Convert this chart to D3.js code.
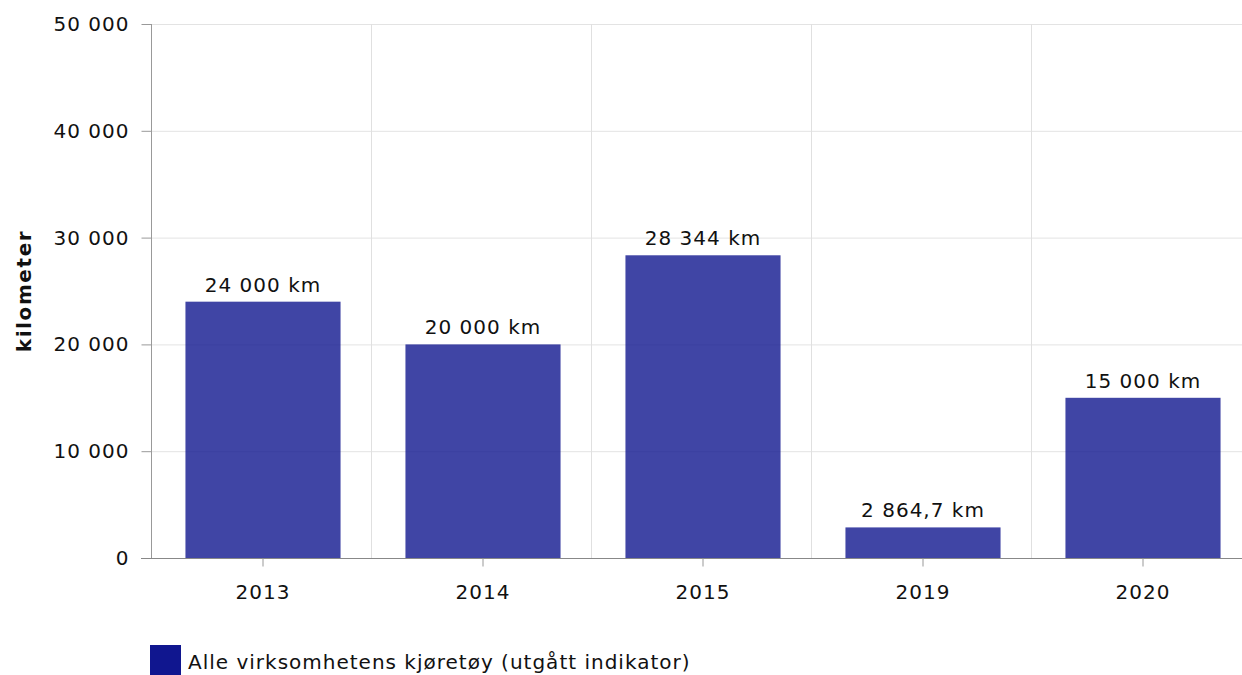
<!DOCTYPE html>
<html>
<head>
<meta charset="utf-8">
<script src="https://cdn.jsdelivr.net/npm/d3@7.9.0/dist/d3.min.js"></script>
<style>
  body { margin: 0; background: #fff; }
  text { font-family: "DejaVu Sans", Verdana, sans-serif; fill: #111; letter-spacing: 1px; }
</style>
</head>
<body>
<svg id="chart" width="1242" height="675"></svg>
<script>
const years = ["2013", "2014", "2015", "2019", "2020"];
const values = [24000, 20000, 28344, 2864.7, 15000];
const valueLabels = ["24 000 km", "20 000 km", "28 344 km", "2 864,7 km", "15 000 km"];
const yTicks = [0, 10000, 20000, 30000, 40000, 50000];
const seriesName = "Alle virksomhetens kjøretøy (utgått indikator)";

const width = 1242, height = 675;
const margin = { top: 24, right: -9, bottom: 117, left: 151 };
const barColor = "#10168f";

const svg = d3.select("#chart");

const x = d3.scaleBand()
  .domain(years)
  .range([margin.left + 2, width - margin.right + 2])
  .paddingInner(0.295)
  .paddingOuter(0.1475);

const y = d3.scaleLinear()
  .domain([0, 50000])
  .range([height - margin.bottom, margin.top]);

const fmt = v => d3.format(",")(v).replace(/,/g, " ");

// horizontal grid
svg.append("g")
  .selectAll("line")
  .data(yTicks)
  .join("line")
  .attr("x1", margin.left)
  .attr("x2", width)
  .attr("y1", d => y(d) + 0.5)
  .attr("y2", d => y(d) + 0.5)
  .attr("stroke", "#e3e3e3");

// vertical grid at category boundaries
const step = x.step();
const boundary = d => Math.round(x(d) - step * x.paddingInner() / 2 - 2) + 0.5;
svg.append("g")
  .selectAll("line")
  .data(years.slice(1))
  .join("line")
  .attr("x1", boundary)
  .attr("x2", boundary)
  .attr("y1", margin.top)
  .attr("y2", y(0))
  .attr("stroke", "#e0e0e0");

// bars
svg.append("g")
  .selectAll("rect")
  .data(values)
  .join("rect")
  .attr("x", (d, i) => x(years[i]))
  .attr("width", x.bandwidth())
  .attr("y", d => y(d))
  .attr("height", d => y(0) - y(d))
  .attr("fill", barColor)
  .attr("fill-opacity", 0.8);

// value labels
svg.append("g")
  .selectAll("text")
  .data(values)
  .join("text")
  .attr("x", (d, i) => x(years[i]) + x.bandwidth() / 2)
  .attr("y", d => y(d) - 10)
  .attr("text-anchor", "middle")
  .style("font-size", "20px")
  .text((d, i) => valueLabels[i]);

// y axis
const yAxis = svg.append("g")
  .attr("transform", `translate(${margin.left + 0.5},0)`)
  .call(d3.axisLeft(y).tickValues(yTicks).tickFormat(fmt).tickSize(10).tickPadding(12));
yAxis.select(".domain").attr("stroke", "#999").attr("d", `M0,${margin.top}V${y(0)}`);
yAxis.selectAll(".tick line").attr("stroke", "#999");
yAxis.selectAll(".tick text").style("font-size", "20px").attr("fill", "#111");

// x axis
const xAxis = svg.append("g")
  .attr("transform", `translate(0,${y(0) + 0.5})`)
  .call(d3.axisBottom(x).tickSize(8).tickPadding(18));
xAxis.select(".domain").attr("stroke", "#888").attr("d", `M${margin.left - 10},0H${width}`);
xAxis.selectAll(".tick line").attr("stroke", "#999");
xAxis.selectAll(".tick text").style("font-size", "20px").attr("fill", "#111");

// y axis title
svg.append("text")
  .attr("transform", `translate(31,${(margin.top + y(0)) / 2}) rotate(-90)`)
  .attr("text-anchor", "middle")
  .style("font-size", "20px")
  .style("font-weight", "bold")
  .style("letter-spacing", "1.6px")
  .text("kilometer");

// legend
const legend = svg.append("g").attr("transform", "translate(150,645)");
legend.append("rect")
  .attr("width", 31)
  .attr("height", 30)
  .attr("fill", barColor);
legend.append("text")
  .attr("x", 38)
  .attr("y", 24)
  .style("font-size", "20px")
  .text(seriesName);
</script>
</body>
</html>
